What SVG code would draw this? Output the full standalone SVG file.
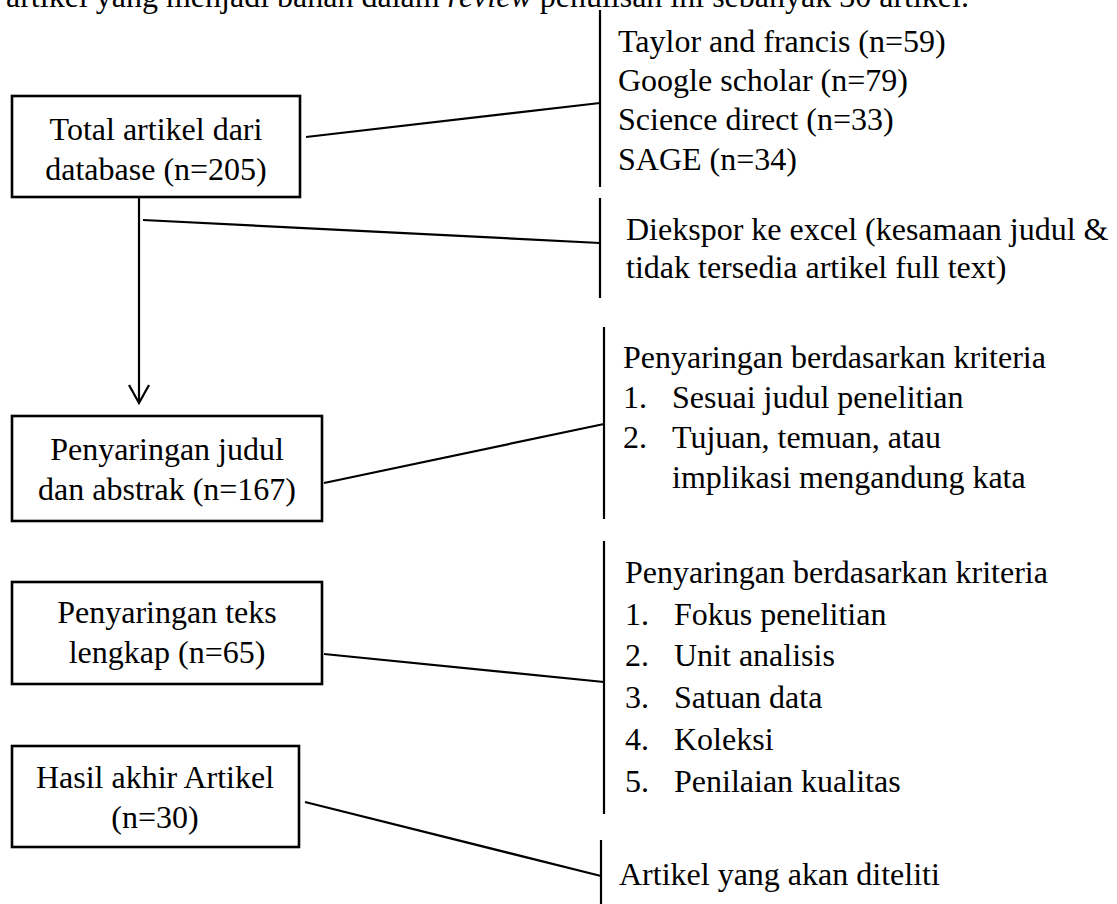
<svg xmlns="http://www.w3.org/2000/svg" width="1117" height="904" viewBox="0 0 1117 904">
<defs>
<style>
text{font-family:"Liberation Serif","Times New Roman",serif;font-size:32px;fill:#000}
.c{text-anchor:middle}
.box{fill:#fff;stroke:#000;stroke-width:2.6}
.ln{stroke:#000;stroke-width:2.2;fill:none}
</style>
</defs>
<rect width="1117" height="904" fill="#fff"/>
<text x="6" y="7">artikel yang menjadi bahan dalam <tspan font-style="italic">review</tspan> penulisan ini sebanyak 30 artikel.</text>
<g id="connectors">
<line class="ln" x1="306" y1="137" x2="600" y2="103"/>
<line class="ln" x1="139" y1="197" x2="139" y2="403"/>
<polyline class="ln" points="129,385 139,403 149,385"/>
<line class="ln" x1="143" y1="220" x2="600" y2="243"/>
<line class="ln" x1="324" y1="483" x2="604" y2="424"/>
<line class="ln" x1="324" y1="654" x2="604" y2="682"/>
<line class="ln" x1="305" y1="802" x2="601" y2="876"/>
</g>
<g id="node-total">
<rect class="box" x="12" y="96" width="288" height="101"/>
<text class="c" x="156" y="140">Total artikel dari</text>
<text class="c" x="156" y="180">database (n=205)</text>
</g>
<g id="node-sources">
<line class="ln" x1="600" y1="10" x2="600" y2="187"/>
<text x="618" y="52">Taylor and francis (n=59)</text>
<text x="618" y="91">Google scholar (n=79)</text>
<text x="618" y="130">Science direct (n=33)</text>
<text x="618" y="170">SAGE (n=34)</text>
</g>
<g id="node-ekspor">
<line class="ln" x1="600" y1="198" x2="600" y2="298"/>
<text x="626" y="240">Diekspor ke excel (kesamaan judul &amp;</text>
<text x="626" y="278">tidak tersedia artikel full text)</text>
</g>
<g id="node-judul">
<rect class="box" x="12" y="416" width="310" height="105"/>
<text class="c" x="167" y="460">Penyaringan judul</text>
<text class="c" x="167" y="500">dan abstrak (n=167)</text>
</g>
<g id="node-kriteria1">
<line class="ln" x1="604" y1="327" x2="604" y2="519"/>
<text x="623" y="368">Penyaringan berdasarkan kriteria</text>
<text x="623" y="408">1.</text><text x="672" y="408">Sesuai judul penelitian</text>
<text x="623" y="448">2.</text><text x="672" y="448">Tujuan, temuan, atau</text>
<text x="672" y="488">implikasi mengandung kata</text>
</g>
<g id="node-teks">
<rect class="box" x="12" y="582" width="310" height="102"/>
<text class="c" x="167" y="623">Penyaringan teks</text>
<text class="c" x="167" y="663">lengkap (n=65)</text>
</g>
<g id="node-kriteria2">
<line class="ln" x1="604" y1="541" x2="604" y2="814"/>
<text x="625" y="583">Penyaringan berdasarkan kriteria</text>
<text x="625" y="625">1.</text><text x="674" y="625">Fokus penelitian</text>
<text x="625" y="666">2.</text><text x="674" y="666">Unit analisis</text>
<text x="625" y="708">3.</text><text x="674" y="708">Satuan data</text>
<text x="625" y="750">4.</text><text x="674" y="750">Koleksi</text>
<text x="625" y="792">5.</text><text x="674" y="792">Penilaian kualitas</text>
</g>
<g id="node-hasil">
<rect class="box" x="12" y="746" width="287" height="101"/>
<text class="c" x="155" y="788">Hasil akhir Artikel</text>
<text class="c" x="155" y="828">(n=30)</text>
</g>
<g id="node-diteliti">
<line class="ln" x1="601" y1="840" x2="601" y2="904"/>
<text x="619" y="885">Artikel yang akan diteliti</text>
</g>
</svg>
